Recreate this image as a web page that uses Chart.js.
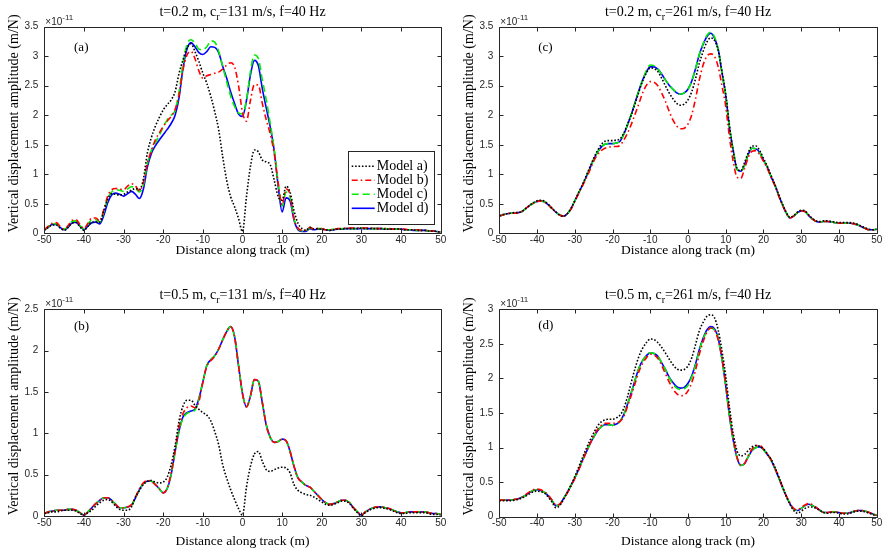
<!DOCTYPE html>
<html>
<head>
<meta charset="utf-8">
<script src="https://cdn.jsdelivr.net/npm/chart.js@4.4.1/dist/chart.umd.min.js"></script>
<style>
  html, body { margin: 0; padding: 0; background: #fff; }
  body { width: 885px; height: 556px; position: relative; overflow: hidden; }
  .panel { position: absolute; }
  canvas { display: block; }
</style>
</head>
<body>
<div class="panel" style="left:0;top:0"><canvas id="chartA" width="450" height="276"></canvas></div>
<div class="panel" style="left:455px;top:0"><canvas id="chartC" width="430" height="276"></canvas></div>
<div class="panel" style="left:0;top:283px"><canvas id="chartB" width="450" height="273"></canvas></div>
<div class="panel" style="left:455px;top:283px"><canvas id="chartD" width="430" height="273"></canvas></div>
<script>
// distance along track (m), shared by every curve
const distance = [-50,-49,-48,-47,-46,-45,-44,-43,-42,-41,-40,-39,-38,-37,-36,-35,-34,-33,-32,-31,
  -30,-29,-28,-27,-26,-25,-24,-23,-22,-21,-20,-19,-18,-17,-16,-15,-14,-13,-12,-11,
  -10,-9,-8,-7,-6,-5,-4,-3,-2,-1,0,1,2,3,4,5,6,7,8,9,10,11,12,13,14,15,16,17,18,19,
  20,21,22,23,24,25,26,27,28,29,30,31,32,33,34,35,36,37,38,39,40,41,42,43,44,45,46,47,48,49,50];

const modelNames = ['Model a)', 'Model b)', 'Model c)', 'Model d)'];
const xTicks = [-50, -40, -30, -20, -10, 0, 10, 20, 30, 40, 50];

// amplitudes in units of 1e-11 m/N
// (a) t=0.2 m, cr=131 m/s
const aModelA = [0.05,0.10,0.14,0.14,0.09,0.05,0.10,0.17,0.18,0.11,
  0.05,0.12,0.19,0.19,0.19,0.38,0.58,0.67,0.66,0.65,
  0.66,0.70,0.73,0.76,0.74,0.92,1.36,1.62,1.81,1.96,
  2.09,2.18,2.26,2.40,2.71,2.94,3.14,3.21,3.08,2.91,
  2.71,2.54,2.32,2.06,1.75,1.30,0.90,0.62,0.45,0.25,
  0.03,0.62,1.13,1.41,1.38,1.24,1.21,1.16,0.90,0.62,
  0.56,0.80,0.70,0.38,0.17,0.08,0.05,0.10,0.07,0.08,
  0.07,0.06,0.05,0.06,0.07,0.07,0.08,0.08,0.08,0.08,
  0.09,0.08,0.08,0.08,0.08,0.08,0.07,0.07,0.07,0.07,
  0.07,0.06,0.06,0.06,0.05,0.05,0.05,0.04,0.04,0.03,0.02];
const aModelB = [0.06,0.12,0.17,0.18,0.12,0.07,0.13,0.22,0.23,0.15,
  0.08,0.17,0.26,0.26,0.21,0.40,0.63,0.74,0.76,0.75,
  0.74,0.80,0.84,0.80,0.72,0.86,1.19,1.40,1.58,1.70,
  1.81,1.90,1.98,2.10,2.35,2.77,3.02,3.08,2.96,2.75,
  2.63,2.67,2.69,2.71,2.73,2.78,2.85,2.89,2.82,2.50,
  2.05,1.90,2.25,2.52,2.51,2.20,1.92,1.68,1.35,0.85,
  0.48,0.75,0.66,0.25,0.09,0.05,0.05,0.10,0.07,0.08,
  0.08,0.06,0.06,0.07,0.08,0.08,0.09,0.09,0.09,0.09,
  0.09,0.09,0.09,0.09,0.08,0.08,0.08,0.08,0.07,0.07,
  0.07,0.07,0.06,0.06,0.06,0.05,0.05,0.04,0.04,0.03,0.02];
const aModelC = [0.06,0.11,0.16,0.16,0.11,0.07,0.12,0.20,0.21,0.13,
  0.07,0.15,0.23,0.23,0.19,0.36,0.58,0.70,0.74,0.73,
  0.71,0.75,0.79,0.76,0.70,0.82,1.18,1.40,1.53,1.66,
  1.80,1.92,2.00,2.08,2.40,2.88,3.20,3.28,3.22,3.12,
  3.11,3.16,3.26,3.24,3.08,2.83,2.57,2.33,2.15,2.04,
  2.02,2.25,2.74,3.02,2.96,2.60,2.26,1.86,1.42,0.85,
  0.46,0.70,0.62,0.25,0.08,0.04,0.04,0.09,0.07,0.08,
  0.08,0.06,0.06,0.07,0.07,0.08,0.08,0.08,0.08,0.08,
  0.09,0.08,0.08,0.08,0.08,0.08,0.08,0.07,0.07,0.07,
  0.07,0.06,0.06,0.06,0.05,0.05,0.05,0.04,0.04,0.03,0.02];
const aModelD = [0.06,0.10,0.15,0.15,0.10,0.06,0.10,0.18,0.19,0.12,
  0.06,0.12,0.18,0.19,0.16,0.30,0.52,0.65,0.68,0.66,
  0.63,0.67,0.71,0.66,0.59,0.75,1.12,1.35,1.48,1.58,
  1.67,1.76,1.86,2.00,2.30,2.80,3.12,3.23,3.16,3.06,
  3.03,3.08,3.16,3.15,3.06,2.83,2.63,2.40,2.20,2.02,
  1.98,2.25,2.68,2.93,2.84,2.45,2.12,1.80,1.40,0.80,
  0.36,0.60,0.55,0.22,0.06,0.03,0.03,0.08,0.06,0.07,
  0.07,0.06,0.05,0.06,0.07,0.07,0.08,0.08,0.08,0.08,
  0.08,0.08,0.08,0.08,0.08,0.08,0.07,0.07,0.07,0.07,
  0.07,0.06,0.06,0.05,0.05,0.05,0.05,0.04,0.04,0.03,0.02];

// (b) t=0.5 m, cr=131 m/s
const bModelA = [0.03,0.04,0.05,0.05,0.06,0.07,0.07,0.07,0.06,0.03,
  0.01,0.04,0.07,0.12,0.16,0.19,0.20,0.17,0.12,0.08,
  0.07,0.07,0.11,0.23,0.31,0.38,0.42,0.43,0.41,0.40,
  0.41,0.47,0.62,0.85,1.15,1.33,1.40,1.40,1.34,1.29,
  1.25,1.22,1.15,1.02,0.86,0.62,0.46,0.32,0.20,0.09,
  0.01,0.35,0.60,0.75,0.78,0.66,0.56,0.54,0.56,0.58,
  0.59,0.58,0.52,0.38,0.31,0.28,0.26,0.25,0.23,0.20,
  0.17,0.14,0.13,0.14,0.16,0.18,0.18,0.15,0.09,0.04,
  0.00,0.04,0.07,0.09,0.10,0.10,0.09,0.08,0.06,0.04,
  0.03,0.03,0.04,0.04,0.04,0.04,0.04,0.03,0.02,0.02,0.01];
const bModelB = [0.03,0.05,0.06,0.07,0.07,0.07,0.08,0.08,0.07,0.04,
  0.01,0.05,0.10,0.15,0.19,0.22,0.22,0.19,0.14,0.10,
  0.10,0.11,0.14,0.23,0.33,0.40,0.43,0.42,0.38,0.33,
  0.28,0.34,0.52,0.80,1.08,1.24,1.31,1.33,1.31,1.38,
  1.62,1.81,1.88,1.93,2.02,2.13,2.23,2.29,2.17,1.82,
  1.48,1.32,1.45,1.65,1.63,1.37,1.10,0.95,0.89,0.90,
  0.93,0.91,0.78,0.60,0.46,0.41,0.37,0.35,0.30,0.25,
  0.20,0.16,0.14,0.15,0.17,0.19,0.19,0.16,0.10,0.05,
  0.01,0.05,0.08,0.10,0.11,0.11,0.10,0.09,0.07,0.05,
  0.04,0.04,0.05,0.05,0.05,0.05,0.05,0.04,0.03,0.03,0.02];
const bModelC = [0.03,0.05,0.06,0.07,0.07,0.07,0.08,0.08,0.07,0.04,
  0.01,0.05,0.10,0.15,0.19,0.22,0.22,0.19,0.14,0.10,
  0.10,0.11,0.13,0.22,0.32,0.39,0.42,0.42,0.38,0.33,
  0.28,0.33,0.50,0.78,1.03,1.18,1.24,1.26,1.28,1.42,
  1.62,1.82,1.89,1.94,2.02,2.13,2.23,2.29,2.17,1.82,
  1.48,1.32,1.45,1.65,1.63,1.37,1.10,0.95,0.89,0.90,
  0.93,0.91,0.78,0.60,0.46,0.41,0.37,0.35,0.30,0.25,
  0.20,0.16,0.14,0.15,0.17,0.19,0.19,0.16,0.10,0.05,
  0.01,0.05,0.08,0.10,0.11,0.11,0.10,0.09,0.07,0.05,
  0.04,0.04,0.05,0.05,0.05,0.05,0.05,0.04,0.03,0.03,0.02];
const bModelD = [0.03,0.05,0.06,0.07,0.07,0.07,0.08,0.08,0.07,0.04,
  0.01,0.05,0.10,0.15,0.19,0.22,0.22,0.19,0.14,0.10,
  0.10,0.11,0.13,0.22,0.32,0.39,0.42,0.42,0.38,0.33,
  0.28,0.33,0.50,0.78,1.03,1.20,1.25,1.27,1.29,1.42,
  1.62,1.82,1.89,1.94,2.02,2.13,2.23,2.29,2.17,1.82,
  1.48,1.32,1.45,1.65,1.63,1.37,1.10,0.95,0.89,0.90,
  0.93,0.91,0.78,0.60,0.46,0.41,0.37,0.35,0.30,0.25,
  0.20,0.16,0.14,0.15,0.17,0.19,0.19,0.16,0.10,0.05,
  0.01,0.05,0.08,0.10,0.11,0.11,0.10,0.09,0.07,0.05,
  0.04,0.04,0.05,0.05,0.05,0.05,0.05,0.04,0.03,0.03,0.02];

// (c) t=0.2 m, cr=261 m/s
const cModelA = [0.30,0.32,0.33,0.34,0.35,0.35,0.37,0.42,0.47,0.52,
  0.55,0.56,0.54,0.49,0.42,0.36,0.31,0.29,0.33,0.42,
  0.55,0.69,0.82,0.97,1.12,1.27,1.40,1.50,1.56,1.57,
  1.57,1.58,1.60,1.70,1.85,2.01,2.20,2.40,2.58,2.72,
  2.80,2.79,2.74,2.63,2.50,2.38,2.28,2.20,2.17,2.19,
  2.26,2.40,2.62,2.88,3.08,3.24,3.31,3.27,3.10,2.74,
  2.36,1.82,1.38,1.10,1.06,1.20,1.37,1.48,1.48,1.40,
  1.27,1.14,0.98,0.83,0.66,0.50,0.36,0.27,0.30,0.36,
  0.39,0.38,0.31,0.25,0.21,0.20,0.21,0.21,0.20,0.19,
  0.18,0.18,0.18,0.18,0.17,0.15,0.12,0.09,0.07,0.06,0.07];
const cModelB = [0.29,0.31,0.33,0.34,0.34,0.35,0.37,0.42,0.47,0.51,
  0.54,0.55,0.53,0.48,0.42,0.36,0.31,0.29,0.33,0.41,
  0.54,0.67,0.80,0.93,1.07,1.22,1.33,1.40,1.44,1.46,
  1.47,1.47,1.49,1.58,1.70,1.85,2.02,2.20,2.38,2.51,
  2.57,2.56,2.50,2.38,2.24,2.07,1.92,1.82,1.77,1.78,
  1.85,2.01,2.28,2.60,2.85,3.00,3.04,3.00,2.82,2.50,
  2.15,1.62,1.21,0.95,0.93,1.10,1.29,1.39,1.40,1.33,
  1.22,1.10,0.95,0.81,0.64,0.48,0.35,0.26,0.29,0.35,
  0.38,0.37,0.30,0.24,0.20,0.19,0.20,0.20,0.19,0.18,
  0.17,0.17,0.17,0.17,0.16,0.14,0.11,0.08,0.06,0.06,0.07];
const cModelC = [0.29,0.31,0.33,0.34,0.34,0.35,0.37,0.42,0.47,0.51,
  0.54,0.55,0.53,0.48,0.42,0.36,0.31,0.29,0.33,0.42,
  0.55,0.68,0.81,0.95,1.10,1.25,1.37,1.46,1.51,1.52,
  1.52,1.53,1.56,1.68,1.84,2.02,2.22,2.42,2.60,2.76,
  2.85,2.84,2.78,2.70,2.60,2.51,2.44,2.38,2.36,2.38,
  2.44,2.58,2.79,3.03,3.21,3.35,3.41,3.33,3.12,2.72,
  2.33,1.78,1.40,1.08,1.05,1.16,1.34,1.44,1.43,1.37,
  1.24,1.12,0.96,0.82,0.65,0.49,0.35,0.26,0.29,0.35,
  0.38,0.37,0.30,0.24,0.20,0.19,0.20,0.20,0.19,0.18,
  0.17,0.17,0.17,0.17,0.16,0.14,0.11,0.08,0.06,0.06,0.07];
const cModelD = [0.29,0.31,0.33,0.34,0.34,0.35,0.37,0.42,0.47,0.51,
  0.54,0.55,0.53,0.48,0.42,0.36,0.31,0.29,0.33,0.42,
  0.55,0.68,0.81,0.95,1.10,1.25,1.37,1.46,1.51,1.52,
  1.52,1.53,1.56,1.68,1.84,2.02,2.22,2.42,2.60,2.74,
  2.82,2.82,2.78,2.70,2.60,2.51,2.44,2.38,2.36,2.38,
  2.44,2.58,2.79,3.03,3.20,3.33,3.39,3.31,3.12,2.72,
  2.33,1.78,1.40,1.08,1.05,1.16,1.34,1.44,1.43,1.37,
  1.24,1.12,0.96,0.82,0.65,0.49,0.35,0.26,0.29,0.35,
  0.38,0.37,0.30,0.24,0.20,0.19,0.20,0.20,0.19,0.18,
  0.17,0.17,0.17,0.17,0.16,0.14,0.11,0.08,0.06,0.06,0.07];

// (d) t=0.5 m, cr=261 m/s
const dModelA = [0.23,0.23,0.23,0.23,0.24,0.25,0.27,0.30,0.33,0.36,
  0.37,0.36,0.34,0.28,0.21,0.13,0.16,0.25,0.35,0.46,
  0.58,0.71,0.85,0.98,1.10,1.21,1.31,1.37,1.40,1.41,
  1.41,1.43,1.47,1.57,1.74,1.95,2.15,2.32,2.44,2.52,
  2.57,2.56,2.52,2.45,2.37,2.28,2.20,2.14,2.12,2.13,
  2.18,2.30,2.49,2.69,2.81,2.90,2.92,2.88,2.70,2.40,
  2.03,1.58,1.20,0.95,0.88,0.90,0.96,1.01,1.03,1.02,
  0.98,0.91,0.83,0.72,0.58,0.44,0.30,0.18,0.09,0.05,
  0.08,0.12,0.14,0.14,0.12,0.09,0.06,0.05,0.06,0.06,
  0.05,0.04,0.04,0.05,0.07,0.08,0.08,0.07,0.05,0.03,0.01];
const dModelB = [0.24,0.24,0.24,0.24,0.25,0.26,0.28,0.32,0.36,0.39,
  0.40,0.39,0.36,0.31,0.24,0.17,0.18,0.25,0.34,0.44,
  0.55,0.67,0.80,0.93,1.05,1.16,1.26,1.32,1.35,1.35,
  1.35,1.36,1.38,1.45,1.60,1.76,1.93,2.10,2.22,2.30,
  2.35,2.34,2.29,2.19,2.07,1.95,1.85,1.78,1.75,1.76,
  1.82,1.94,2.12,2.35,2.53,2.67,2.73,2.70,2.56,2.29,
  1.92,1.48,1.12,0.86,0.75,0.77,0.89,0.98,1.03,1.03,
  0.98,0.91,0.83,0.71,0.58,0.44,0.31,0.20,0.12,0.10,
  0.13,0.17,0.19,0.17,0.13,0.09,0.06,0.06,0.07,0.07,
  0.06,0.05,0.05,0.06,0.08,0.09,0.09,0.08,0.06,0.04,0.02];
const dModelC = [0.24,0.24,0.24,0.24,0.25,0.26,0.28,0.31,0.35,0.38,
  0.39,0.38,0.35,0.30,0.23,0.16,0.18,0.26,0.35,0.45,
  0.56,0.68,0.81,0.93,1.05,1.15,1.24,1.30,1.33,1.33,
  1.32,1.34,1.38,1.48,1.63,1.80,1.98,2.15,2.26,2.33,
  2.37,2.36,2.32,2.23,2.13,2.01,1.92,1.86,1.84,1.85,
  1.90,2.02,2.19,2.40,2.57,2.68,2.73,2.70,2.57,2.28,
  1.89,1.45,1.10,0.85,0.74,0.77,0.87,0.96,1.00,1.01,
  0.97,0.90,0.82,0.70,0.57,0.43,0.30,0.19,0.11,0.09,
  0.12,0.16,0.18,0.16,0.13,0.09,0.06,0.06,0.07,0.07,
  0.06,0.05,0.05,0.06,0.08,0.09,0.09,0.08,0.06,0.04,0.02];
const dModelD = [0.24,0.24,0.24,0.24,0.25,0.26,0.28,0.31,0.35,0.38,
  0.39,0.38,0.35,0.30,0.23,0.16,0.18,0.26,0.35,0.45,
  0.56,0.68,0.81,0.93,1.05,1.15,1.24,1.30,1.33,1.33,
  1.32,1.34,1.38,1.48,1.63,1.80,1.98,2.15,2.26,2.33,
  2.37,2.36,2.32,2.23,2.13,2.02,1.94,1.88,1.86,1.87,
  1.93,2.04,2.21,2.42,2.58,2.70,2.75,2.72,2.58,2.28,
  1.89,1.45,1.10,0.85,0.74,0.77,0.87,0.96,1.00,1.01,
  0.97,0.90,0.82,0.70,0.57,0.43,0.30,0.19,0.11,0.09,
  0.12,0.16,0.18,0.16,0.13,0.09,0.06,0.06,0.07,0.07,
  0.06,0.05,0.05,0.06,0.08,0.09,0.09,0.08,0.06,0.04,0.02];

const SERIF = '"Liberation Serif", "Times New Roman", serif';
const SANS = '"Liberation Sans", Arial, sans-serif';
const INK = '#262626';
const X_TITLE_SIZE = 13.5;
const Y_TITLE = 'Vertical displacement amplitude (m/N)';

// line looks for models a) .. d)
const lineStyles = [
  { color: '#000000', dash: [1.6, 1.8], width: 1.6 },
  { color: '#ff0000', dash: [6, 3, 1.6, 3], width: 1.6 },
  { color: '#00ee00', dash: [7, 4], width: 1.6 },
  { color: '#0000ff', dash: [], width: 1.6 },
];

// boxed axes with inward ticks, y label, title with subscript, exponent, panel tag, legend
const axesDecor = {
  id: 'axesDecor',
  afterDraw(chart, args, o) {
    const { ctx, chartArea: ca, scales: { x, y } } = chart;
    const L = Math.round(ca.left) + 0.5, R = Math.round(ca.right) + 0.5;
    const T = Math.round(ca.top) + 0.5, B = Math.round(ca.bottom) + 0.5;
    ctx.save();
    ctx.strokeStyle = INK;
    ctx.lineWidth = 1;
    ctx.setLineDash([]);
    ctx.beginPath();
    ctx.rect(L, T, R - L, B - T);
    x.ticks.forEach(t => {
      const px = Math.round(x.getPixelForValue(t.value)) + 0.5;
      ctx.moveTo(px, B); ctx.lineTo(px, B - 4);
      ctx.moveTo(px, T); ctx.lineTo(px, T + 4);
    });
    y.ticks.forEach(t => {
      const py = Math.round(y.getPixelForValue(t.value)) + 0.5;
      ctx.moveTo(L, py); ctx.lineTo(L + 4, py);
      ctx.moveTo(R, py); ctx.lineTo(R - 4, py);
    });
    ctx.stroke();

    // y axis label, sitting a little above the axis centre
    ctx.save();
    ctx.translate(o.yTitleX, (ca.top + ca.bottom) / 2 - 6.5);
    ctx.rotate(-Math.PI / 2);
    ctx.fillStyle = '#000';
    ctx.font = '14px ' + SERIF;
    ctx.textAlign = 'center';
    ctx.textBaseline = 'middle';
    ctx.fillText(Y_TITLE, 0, 0);
    ctx.restore();

    // exponent above the y axis
    ctx.fillStyle = INK;
    ctx.textAlign = 'left';
    ctx.textBaseline = 'alphabetic';
    ctx.font = '10px ' + SANS;
    ctx.fillText('\u00d710', ca.left + 1, ca.top - 2);
    const wx = ctx.measureText('\u00d710').width;
    ctx.font = '8px ' + SANS;
    ctx.fillText('-11', ca.left + 1 + wx, ca.top - 7);

    // title: t=.., c_r=.., f=..
    const [pre, sub, post] = o.title;
    ctx.fillStyle = '#000';
    ctx.font = '14px ' + SERIF;
    const w1 = ctx.measureText(pre).width, w3 = ctx.measureText(post).width;
    ctx.font = '10px ' + SERIF;
    const w2 = ctx.measureText(sub).width;
    let tx = (ca.left + ca.right) / 2 - (w1 + w2 + w3) / 2;
    const ty = ca.top - 10.5;
    ctx.font = '14px ' + SERIF;
    ctx.fillText(pre, tx, ty);
    tx += w1;
    ctx.font = '10px ' + SERIF;
    ctx.fillText(sub, tx, ty + 4);
    tx += w2;
    ctx.font = '14px ' + SERIF;
    ctx.fillText(post, tx, ty);

    // panel tag
    ctx.font = '13px ' + SERIF;
    ctx.textBaseline = 'middle';
    ctx.fillText(o.tag, x.getPixelForValue(o.tagAt[0]), y.getPixelForValue(o.tagAt[1]));

    if (o.legend) {
      const bx = ca.right - 93, by = ca.bottom - 82, bw = 86, bh = 73;
      ctx.fillStyle = '#fff';
      ctx.fillRect(bx, by, bw, bh);
      ctx.strokeStyle = INK;
      ctx.lineWidth = 1;
      ctx.strokeRect(Math.round(bx) + 0.5, Math.round(by) + 0.5, bw, bh);
      modelNames.forEach((name, i) => {
        const ry = by + 15 + i * 14;
        const s = lineStyles[i];
        ctx.strokeStyle = s.color;
        ctx.lineWidth = s.width;
        ctx.setLineDash(s.dash);
        ctx.beginPath();
        ctx.moveTo(bx + 4, ry);
        ctx.lineTo(bx + 27, ry);
        ctx.stroke();
        ctx.setLineDash([]);
        ctx.fillStyle = '#000';
        ctx.font = '14px ' + SERIF;
        ctx.textBaseline = 'middle';
        ctx.fillText(name, bx + 29, ry + 0.5);
      });
    }
    ctx.restore();
  }
};

function makePanel(id, p) {
  const canvas = document.getElementById(id);
  const W = canvas.width, H = canvas.height;
  const halfX = X_TITLE_SIZE * 1.2 / 2;
  const datasets = p.series.map((vals, i) => ({
    label: modelNames[i],
    data: distance.map((d, k) => ({ x: d, y: vals[k] })),
    borderColor: lineStyles[i].color,
    borderDash: lineStyles[i].dash,
    borderWidth: lineStyles[i].width,
    borderCapStyle: 'butt',
    pointRadius: 0,
    fill: false,
    cubicInterpolationMode: 'monotone',
  }));
  return new Chart(canvas, {
    type: 'line',
    data: { datasets },
    options: {
      responsive: false,
      animation: false,
      events: [],
      layout: { padding: { left: 0, top: p.area.top, right: W - p.area.right, bottom: H - p.xTitleY - halfX } },
      plugins: {
        legend: { display: false },
        tooltip: { enabled: false },
        axesDecor: { title: p.title, tag: p.tag, tagAt: p.tagAt, legend: p.legend, yTitleX: p.yTitleX },
      },
      scales: {
        x: {
          type: 'linear', min: -50, max: 50,
          afterBuildTicks: s => { s.ticks = xTicks.map(v => ({ value: v })); },
          ticks: { color: INK, font: { family: SANS, size: 10 }, padding: 1, maxRotation: 0, autoSkip: false },
          grid: { display: false, drawTicks: false },
          border: { display: false },
          title: { display: true, text: 'Distance along track (m)', color: '#000', font: { family: SERIF, size: X_TITLE_SIZE }, padding: 0 },
          afterFit: s => { s.height = p.xTitleY + halfX - p.area.bottom; },
        },
        y: {
          type: 'linear', min: 0, max: p.ymax,
          ticks: { stepSize: 0.5, color: INK, font: { family: SANS, size: 10 }, padding: 6, callback: v => String(v) },
          grid: { display: false, drawTicks: false },
          border: { display: false },
          title: { display: false },
          afterFit: s => { s.width = p.area.left; },
        },
      },
    },
    plugins: [axesDecor],
  });
}

makePanel('chartA', {
  series: [aModelA, aModelB, aModelC, aModelD], ymax: 3.5,
  title: ['t=0.2 m, c', 'r', '=131 m/s, f=40 Hz'], tag: '(a)', tagAt: [-42.5, 3.14], legend: true,
  area: { left: 44.3, top: 26.7, right: 440.7, bottom: 233.3 }, xTitleY: 250.5, yTitleX: 14.5,
});
makePanel('chartC', {
  series: [cModelA, cModelB, cModelC, cModelD], ymax: 3.5,
  title: ['t=0.2 m, c', 'r', '=261 m/s, f=40 Hz'], tag: '(c)', tagAt: [-39.7, 3.14], legend: false,
  area: { left: 44.3, top: 26.7, right: 421.7, bottom: 233.3 }, xTitleY: 250.5, yTitleX: 14.5,
});
makePanel('chartB', {
  series: [bModelA, bModelB, bModelC, bModelD], ymax: 2.5,
  title: ['t=0.5 m, c', 'r', '=131 m/s, f=40 Hz'], tag: '(b)', tagAt: [-42.5, 2.29], legend: false,
  area: { left: 44.3, top: 26.3, right: 440.7, bottom: 233 }, xTitleY: 258, yTitleX: 14.5,
});
makePanel('chartD', {
  series: [dModelA, dModelB, dModelC, dModelD], ymax: 3,
  title: ['t=0.5 m, c', 'r', '=261 m/s, f=40 Hz'], tag: '(d)', tagAt: [-39.7, 2.76], legend: false,
  area: { left: 44.3, top: 26.3, right: 421.7, bottom: 233.7 }, xTitleY: 258, yTitleX: 14.5,
});
</script>
</body>
</html>
